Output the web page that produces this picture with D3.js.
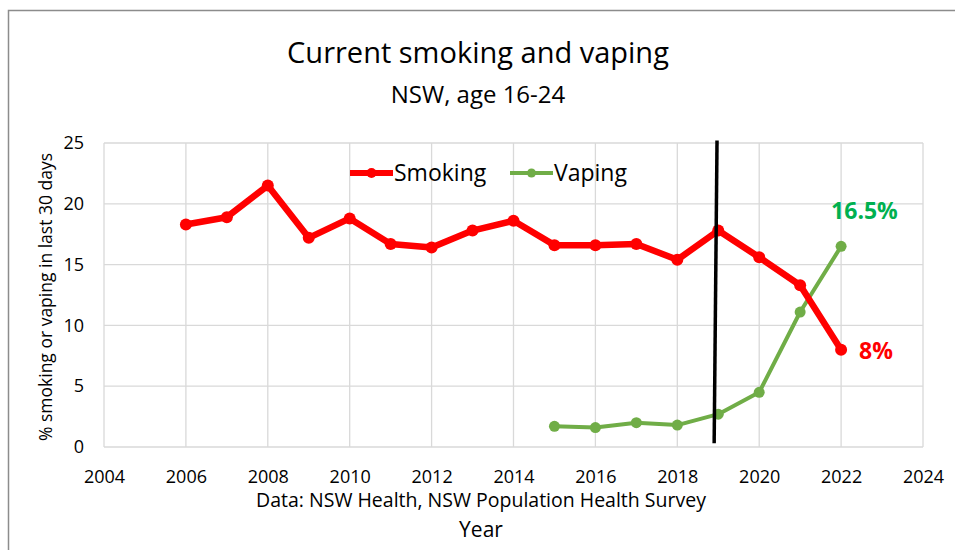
<!DOCTYPE html>
<html lang="en">
<head>
    <meta charset="UTF-8">
    <title>Current smoking and vaping</title>
    <script src="https://d3js.org/d3.v7.min.js"></script>
    <style>
        body { margin: 0; background: #fff; }
        text { font-family: "Open Sans", "Noto Sans", sans-serif; fill: #000; }
    </style>
</head>
<body>
    <div id="chart"></div>

    <script>
        // data
        var smokingYears = [2006, 2007, 2008, 2009, 2010, 2011, 2012, 2013, 2014, 2015, 2016, 2017, 2018, 2019, 2020, 2021, 2022];
        var smokingValues = [18.3, 18.9, 21.5, 17.2, 18.8, 16.7, 16.4, 17.8, 18.6, 16.6, 16.6, 16.7, 15.4, 17.8, 15.6, 13.3, 8.0];
        var vapingYears = [2015, 2016, 2017, 2018, 2019, 2020, 2021, 2022];
        var vapingValues = [1.7, 1.6, 2.0, 1.8, 2.7, 4.5, 11.1, 16.5];
        var xTicks = [2004, 2006, 2008, 2010, 2012, 2014, 2016, 2018, 2020, 2022, 2024];
        var yTicks = [0, 5, 10, 15, 20, 25];
        // the black marker line, around 2019
        var markerLine = [{year: 2018.97, value: 25.2}, {year: 2018.9, value: 0.3}];

        var width = 955,
            height = 550;

        var margin = {top: 143, right: 32, bottom: 103, left: 104};

        var svg = d3.select("#chart").append("svg")
            .attr("width", width)
            .attr("height", height);

        // outer frame
        svg.append("rect")
            .attr("x", 8.5)
            .attr("y", 10.5)
            .attr("width", width)
            .attr("height", height)
            .attr("fill", "none")
            .attr("stroke", "#8c8c8c")
            .attr("stroke-width", 1.5);

        var x = d3.scaleLinear()
            .domain([2004, 2024])
            .range([margin.left, width - margin.right]);

        var y = d3.scaleLinear()
            .domain([0, 25])
            .range([height - margin.bottom, margin.top]);

        // gridlines
        svg.append("g")
            .selectAll("line.vgrid")
            .data(xTicks)
            .join("line")
            .attr("x1", d => x(d))
            .attr("x2", d => x(d))
            .attr("y1", y(0))
            .attr("y2", y(25))
            .attr("stroke", "#d9d9d9")
            .attr("stroke-width", 1.3);

        svg.append("g")
            .selectAll("line.hgrid")
            .data(yTicks)
            .join("line")
            .attr("x1", x(2004))
            .attr("x2", x(2024))
            .attr("y1", d => y(d))
            .attr("y2", d => y(d))
            .attr("stroke", "#d9d9d9")
            .attr("stroke-width", 1.3);

        // axes (labels only, the grid does the lines)
        var xAxis = svg.append("g")
            .attr("transform", "translate(0," + y(0) + ")")
            .call(d3.axisBottom(x).tickValues(xTicks).tickFormat(d3.format("d")).tickSize(0).tickPadding(23));
        xAxis.select(".domain").remove();
        xAxis.selectAll("text")
            .style("font-size", "18px")
            .attr("fill", "#000");

        var yAxis = svg.append("g")
            .attr("transform", "translate(" + x(2004) + ",0)")
            .call(d3.axisLeft(y).tickValues(yTicks).tickSize(0).tickPadding(20));
        yAxis.select(".domain").remove();
        yAxis.selectAll("text")
            .style("font-size", "18px")
            .attr("fill", "#000");

        // titles
        svg.append("text")
            .attr("x", 478)
            .attr("y", 63)
            .attr("text-anchor", "middle")
            .style("font-size", "29px")
            .text("Current smoking and vaping");

        svg.append("text")
            .attr("x", 478)
            .attr("y", 103)
            .attr("text-anchor", "middle")
            .style("font-size", "24px")
            .text("NSW, age 16-24");

        svg.append("text")
            .attr("x", 481)
            .attr("y", 507)
            .attr("text-anchor", "middle")
            .style("font-size", "19.5px")
            .text("Data: NSW Health, NSW Population Health Survey");

        svg.append("text")
            .attr("x", 481)
            .attr("y", 537)
            .attr("text-anchor", "middle")
            .style("font-size", "21px")
            .text("Year");

        svg.append("text")
            .attr("transform", "translate(52," + (y(12.5) + 2) + ") rotate(-90)")
            .attr("text-anchor", "middle")
            .style("font-size", "17.5px")
            .text("% smoking or vaping  in last 30 days");

        // series
        var line = d3.line()
            .x(d => x(d[0]))
            .y(d => y(d[1]));

        var smoking = d3.zip(smokingYears, smokingValues);
        var vaping = d3.zip(vapingYears, vapingValues);

        svg.append("path")
            .datum(vaping)
            .attr("fill", "none")
            .attr("stroke", "#70ad47")
            .attr("stroke-width", 4)
            .attr("stroke-linejoin", "round")
            .attr("d", line);

        svg.append("g")
            .selectAll("circle")
            .data(vaping)
            .join("circle")
            .attr("cx", d => x(d[0]))
            .attr("cy", d => y(d[1]))
            .attr("r", 5.5)
            .attr("fill", "#70ad47");

        svg.append("path")
            .datum(smoking)
            .attr("fill", "none")
            .attr("stroke", "#ff0000")
            .attr("stroke-width", 6.5)
            .attr("stroke-linejoin", "round")
            .attr("d", line);

        svg.append("g")
            .selectAll("circle")
            .data(smoking)
            .join("circle")
            .attr("cx", d => x(d[0]))
            .attr("cy", d => y(d[1]))
            .attr("r", 6)
            .attr("fill", "#ff0000");

        // black line
        svg.append("line")
            .attr("x1", x(markerLine[0].year))
            .attr("y1", y(markerLine[0].value))
            .attr("x2", x(markerLine[1].year))
            .attr("y2", y(markerLine[1].value))
            .attr("stroke", "#000")
            .attr("stroke-width", 3.5);

        // end labels
        svg.append("text")
            .attr("x", x(2022) + 18)
            .attr("y", y(8) + 9)
            .style("fill", "#ff0000")
            .style("font-size", "23px")
            .style("font-weight", "bold")
            .text("8%");

        svg.append("text")
            .attr("x", x(2022) - 10)
            .attr("y", y(16.5) - 27)
            .style("fill", "#00b050")
            .style("font-size", "23px")
            .style("font-weight", "bold")
            .text("16.5%");

        // legend
        var legend = svg.append("g");
        var legendItems = [
            {name: "Smoking", color: "#ff0000", w: 6, r: 5, x: 350},
            {name: "Vaping", color: "#70ad47", w: 4, r: 4.5, x: 510}
        ];
        legendItems.forEach(function(it) {
            legend.append("line")
                .attr("x1", it.x).attr("x2", it.x + 43)
                .attr("y1", 173).attr("y2", 173)
                .attr("stroke", it.color)
                .attr("stroke-width", it.w);
            legend.append("circle")
                .attr("cx", it.x + 21.5).attr("cy", 173)
                .attr("r", it.r)
                .attr("fill", it.color);
            legend.append("text")
                .attr("x", it.x + 44)
                .attr("y", 181)
                .style("font-size", "23px")
                .text(it.name);
        });
    </script>
</body>
</html>
